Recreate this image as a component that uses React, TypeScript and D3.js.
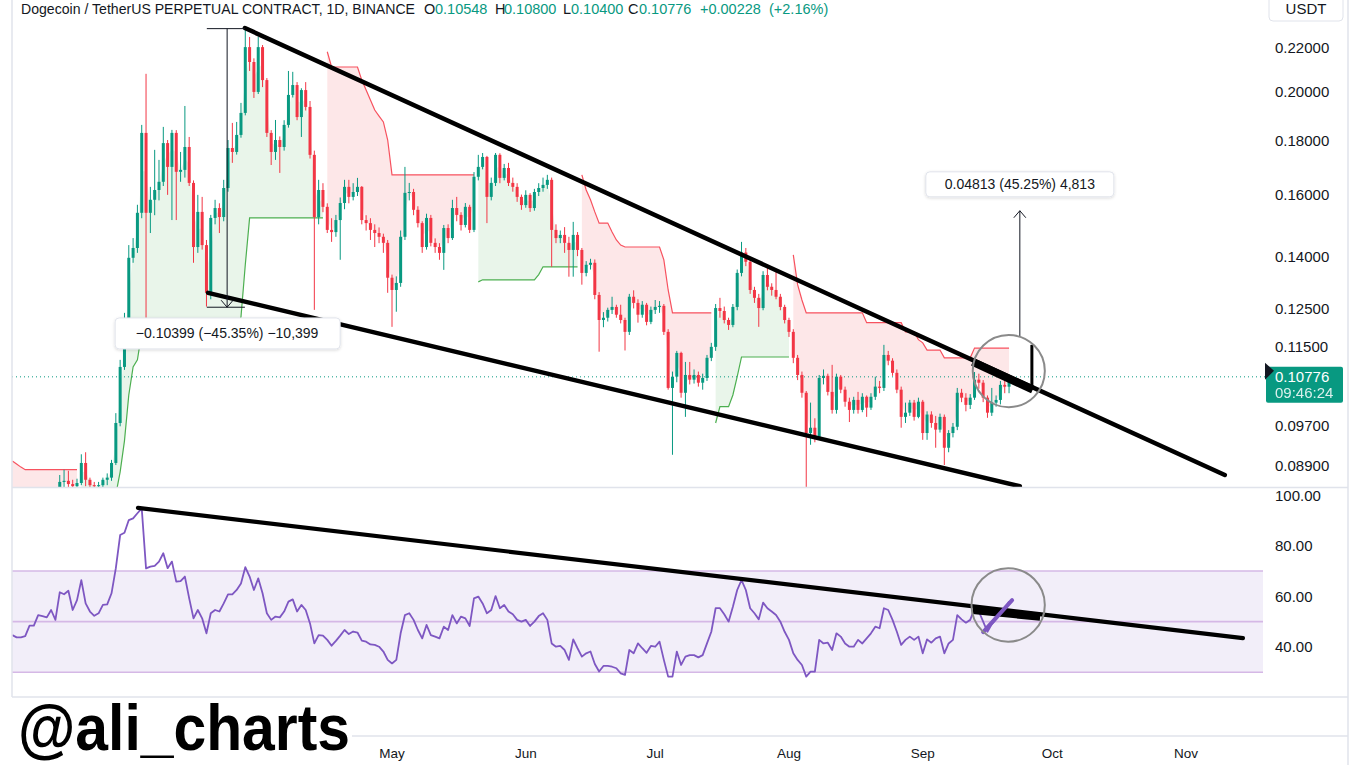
import React, { useMemo } from 'react';
import * as d3 from 'd3';

const DAY = 86400000;
const firstDate = Date.UTC(2024, 1, 3);

// daily bars from 3 Feb 2024, each open is the previous close
const firstOpen = 0.0795;
const closes = [
	0.0790, 0.0787, 0.0785, 0.0791, 0.0803, 0.0800, 0.0812, 0.0809, 0.0807, 0.0818,
	0.0812, 0.0858, 0.0860, 0.0854, 0.0850, 0.0856, 0.0894, 0.0862, 0.0852, 0.0850,
	0.0852, 0.0862, 0.0866, 0.0894, 0.0975, 0.1101, 0.1176, 0.1395, 0.1425, 0.1538,
	0.1829, 0.1538, 0.1582, 0.1616, 0.1645, 0.1789, 0.1699, 0.1829, 0.1681, 0.1688,
	0.1774, 0.1641, 0.1428, 0.1541, 0.1434, 0.1293, 0.1521, 0.1554, 0.1524, 0.1623,
	0.1770, 0.1755, 0.1821, 0.1910, 0.2203, 0.2133, 0.1999, 0.2203, 0.2051, 0.1829,
	0.1755, 0.1801, 0.1774, 0.1861, 0.1986, 0.2029, 0.1893, 0.2007, 0.1935, 0.1744,
	0.1524, 0.1616, 0.1558, 0.1482, 0.1475, 0.1514, 0.1571, 0.1627, 0.1592, 0.1609,
	0.1627, 0.1514, 0.1504, 0.1482, 0.1472, 0.1460, 0.1441, 0.1336, 0.1301, 0.1321,
	0.1460, 0.1606, 0.1609, 0.1548, 0.1504, 0.1428, 0.1521, 0.1441, 0.1428, 0.1410,
	0.1488, 0.1456, 0.1554, 0.1531, 0.1498, 0.1558, 0.1482, 0.1663, 0.1699, 0.1736,
	0.1592, 0.1641, 0.1744, 0.1659, 0.1695, 0.1641, 0.1627, 0.1592, 0.1564, 0.1599,
	0.1554, 0.1609, 0.1623, 0.1634, 0.1652, 0.1482, 0.1456, 0.1466, 0.1441, 0.1419,
	0.1466, 0.1419, 0.1350, 0.1374, 0.1380, 0.1287, 0.1219, 0.1225, 0.1246, 0.1254,
	0.1233, 0.1219, 0.1188, 0.1282, 0.1265, 0.1233, 0.1260, 0.1214, 0.1246, 0.1254,
	0.1257, 0.1188, 0.1052, 0.1078, 0.1135, 0.1041, 0.1082, 0.1071, 0.1082, 0.1064,
	0.1075, 0.1123, 0.1150, 0.1251, 0.1243, 0.1219, 0.1206, 0.1254, 0.1350, 0.1411,
	0.1383, 0.1301, 0.1279, 0.1251, 0.1344, 0.1310, 0.1301, 0.1282, 0.1254, 0.1219,
	0.1188, 0.1123, 0.1082, 0.1041, 0.0954, 0.0965, 0.0946, 0.1075, 0.1080, 0.1043,
	0.1003, 0.1078, 0.1048, 0.1021, 0.1003, 0.1025, 0.1003, 0.1032, 0.1008, 0.1032,
	0.1055, 0.1052, 0.1130, 0.1116, 0.1087, 0.1048, 0.0988, 0.0997, 0.1019, 0.0988,
	0.1021, 0.0954, 0.0993, 0.0975, 0.0961, 0.0988, 0.0924, 0.0954, 0.0967, 0.1041,
	0.1030, 0.1014, 0.1030, 0.1071, 0.1064, 0.1030, 0.0997, 0.1019, 0.1025, 0.1059,
	0.10548, 0.10776,
];
const highs = [
	0.0805, 0.0798, 0.0795, 0.0800, 0.0812, 0.0810, 0.0820, 0.0822, 0.0818, 0.0828,
	0.0825, 0.0871, 0.0881, 0.0879, 0.0862, 0.0864, 0.0911, 0.0915, 0.0866, 0.0858,
	0.0858, 0.0866, 0.0874, 0.0900, 0.0996, 0.1118, 0.1238, 0.1434, 0.1456, 0.1565,
	0.1861, 0.2079, 0.1627, 0.1763, 0.1725, 0.1853, 0.1801, 0.1841, 0.1840, 0.1755,
	0.1939, 0.1813, 0.1650, 0.1599, 0.1592, 0.1450, 0.1531, 0.1582, 0.1570, 0.1652,
	0.1801, 0.1869, 0.1873, 0.1952, 0.2296, 0.2252, 0.2150, 0.2252, 0.2213, 0.2060,
	0.1840, 0.1881, 0.1815, 0.1880, 0.2092, 0.2088, 0.2042, 0.2015, 0.2042, 0.1960,
	0.1760, 0.1652, 0.1640, 0.1570, 0.1520, 0.1531, 0.1590, 0.1652, 0.1652, 0.1640,
	0.1659, 0.1630, 0.1530, 0.1520, 0.1500, 0.1490, 0.1470, 0.1450, 0.1345, 0.1340,
	0.1480, 0.1699, 0.1641, 0.1620, 0.1560, 0.1510, 0.1535, 0.1531, 0.1455, 0.1440,
	0.1498, 0.1500, 0.1582, 0.1592, 0.1540, 0.1571, 0.1565, 0.1680, 0.1744, 0.1751,
	0.1740, 0.1660, 0.1751, 0.1750, 0.1710, 0.1714, 0.1660, 0.1640, 0.1600, 0.1615,
	0.1605, 0.1620, 0.1640, 0.1660, 0.1670, 0.1660, 0.1500, 0.1480, 0.1491, 0.1460,
	0.1508, 0.1475, 0.1425, 0.1385, 0.1392, 0.1390, 0.1295, 0.1240, 0.1252, 0.1282,
	0.1260, 0.1260, 0.1225, 0.1290, 0.1300, 0.1275, 0.1270, 0.1265, 0.1255, 0.1273,
	0.1270, 0.1262, 0.1195, 0.1090, 0.1140, 0.1138, 0.1113, 0.1113, 0.1095, 0.1090,
	0.1085, 0.1130, 0.1160, 0.1262, 0.1279, 0.1255, 0.1225, 0.1262, 0.1360, 0.1444,
	0.1425, 0.1390, 0.1310, 0.1290, 0.1355, 0.1374, 0.1320, 0.1356, 0.1290, 0.1260,
	0.1225, 0.1195, 0.1130, 0.1090, 0.1045, 0.1019, 0.0985, 0.1082, 0.1095, 0.1085,
	0.1106, 0.1085, 0.1082, 0.1055, 0.1030, 0.1032, 0.1043, 0.1040, 0.1035, 0.1040,
	0.1078, 0.1068, 0.1155, 0.1140, 0.1122, 0.1095, 0.1055, 0.1019, 0.1025, 0.1025,
	0.1030, 0.1025, 0.1000, 0.1000, 0.0990, 0.0995, 0.0993, 0.0960, 0.0975, 0.1052,
	0.1050, 0.1040, 0.1038, 0.1089, 0.1085, 0.1070, 0.1035, 0.1052, 0.1035, 0.1068,
	0.1072, 0.1080,
];
const lows = [
	0.0782, 0.0780, 0.0778, 0.0783, 0.0788, 0.0794, 0.0798, 0.0803, 0.0801, 0.0805,
	0.0806, 0.0810, 0.0845, 0.0846, 0.0838, 0.0845, 0.0852, 0.0850, 0.0838, 0.0840,
	0.0842, 0.0848, 0.0852, 0.0860, 0.0890, 0.0968, 0.1094, 0.1160, 0.1380, 0.1410,
	0.1520, 0.1219, 0.1472, 0.1530, 0.1580, 0.1630, 0.1599, 0.1514, 0.1514, 0.1645,
	0.1660, 0.1630, 0.1380, 0.1410, 0.1420, 0.1255, 0.1275, 0.1500, 0.1472, 0.1510,
	0.1610, 0.1714, 0.1745, 0.1810, 0.1900, 0.2092, 0.1973, 0.1990, 0.2020, 0.1813,
	0.1706, 0.1725, 0.1677, 0.1760, 0.1850, 0.1975, 0.1880, 0.1813, 0.1920, 0.1730,
	0.1246, 0.1500, 0.1540, 0.1472, 0.1444, 0.1460, 0.1389, 0.1550, 0.1570, 0.1580,
	0.1595, 0.1500, 0.1480, 0.1450, 0.1428, 0.1440, 0.1410, 0.1293, 0.1201, 0.1241,
	0.1310, 0.1450, 0.1580, 0.1530, 0.1490, 0.1410, 0.1420, 0.1430, 0.1410, 0.1389,
	0.1359, 0.1440, 0.1450, 0.1510, 0.1480, 0.1490, 0.1472, 0.1475, 0.1650, 0.1690,
	0.1504, 0.1580, 0.1630, 0.1640, 0.1650, 0.1630, 0.1610, 0.1575, 0.1548, 0.1555,
	0.1541, 0.1545, 0.1595, 0.1610, 0.1620, 0.1368, 0.1440, 0.1440, 0.1410, 0.1339,
	0.1339, 0.1400, 0.1316, 0.1340, 0.1360, 0.1275, 0.1138, 0.1200, 0.1215, 0.1235,
	0.1225, 0.1210, 0.1141, 0.1180, 0.1250, 0.1212, 0.1225, 0.1205, 0.1208, 0.1235,
	0.1238, 0.1180, 0.1048, 0.0910, 0.1065, 0.1030, 0.0988, 0.1060, 0.1062, 0.1055,
	0.1048, 0.1068, 0.1115, 0.1140, 0.1225, 0.1210, 0.1193, 0.1200, 0.1245, 0.1340,
	0.1370, 0.1290, 0.1265, 0.1201, 0.1245, 0.1300, 0.1285, 0.1275, 0.1245, 0.1210,
	0.1175, 0.1110, 0.1070, 0.1030, 0.0800, 0.0930, 0.0935, 0.0940, 0.1060, 0.1035,
	0.0995, 0.0995, 0.1040, 0.1010, 0.0977, 0.0995, 0.0995, 0.0998, 0.0988, 0.1003,
	0.1025, 0.1040, 0.1045, 0.1105, 0.1080, 0.1040, 0.0965, 0.0975, 0.0990, 0.0980,
	0.0985, 0.0940, 0.0940, 0.0965, 0.0924, 0.0955, 0.0890, 0.0915, 0.0945, 0.0960,
	0.1020, 0.1000, 0.1005, 0.1025, 0.1050, 0.1020, 0.0986, 0.0990, 0.1010, 0.1015,
	0.1040, 0.1040,
];
// SuperTrend value per bar (red when above price, green when below)
const supertrend = [
	0.0898, 0.0892, 0.0886, 0.0881, 0.0881, 0.0881, 0.0881, 0.0881, 0.0881, 0.0881,
	0.0881, 0.0881, 0.0881, 0.0881, 0.0881, 0.0881, 0.0822, 0.0822, 0.0822, 0.0822,
	0.0822, 0.0822, 0.0822, 0.0822, 0.0835, 0.0877, 0.0938, 0.1036, 0.1101, 0.1118,
	0.1186, 0.1193, 0.1193, 0.1193, 0.1193, 0.1193, 0.1193, 0.1193, 0.1193, 0.1193,
	0.1193, 0.1193, 0.1193, 0.1193, 0.1193, 0.1193, 0.1193, 0.1193, 0.1193, 0.1193,
	0.1193, 0.1193, 0.1193, 0.1227, 0.1374, 0.1521, 0.1521, 0.1521, 0.1521, 0.1521,
	0.1521, 0.1521, 0.1521, 0.1521, 0.1521, 0.1521, 0.1521, 0.1521, 0.1521, 0.1521,
	0.1521, 0.1521, 0.1521, 0.2181, 0.2110, 0.2110, 0.2110, 0.2110, 0.2110, 0.2110,
	0.2110, 0.2051, 0.2007, 0.1964, 0.1922, 0.1897, 0.1873, 0.1801, 0.1670, 0.1670,
	0.1670, 0.1670, 0.1670, 0.1670, 0.1670, 0.1670, 0.1670, 0.1670, 0.1670, 0.1670,
	0.1670, 0.1670, 0.1670, 0.1670, 0.1670, 0.1670, 0.1670, 0.1670, 0.1324, 0.1330,
	0.1330, 0.1330, 0.1330, 0.1330, 0.1330, 0.1330, 0.1330, 0.1330, 0.1330, 0.1330,
	0.1330, 0.1330, 0.1345, 0.1368, 0.1368, 0.1368, 0.1368, 0.1368, 0.1368, 0.1368,
	0.1368, 0.1368, 0.1670, 0.1616, 0.1582, 0.1541, 0.1504, 0.1504, 0.1504, 0.1475,
	0.1450, 0.1434, 0.1428, 0.1428, 0.1428, 0.1428, 0.1428, 0.1428, 0.1428, 0.1428,
	0.1428, 0.1389, 0.1301, 0.1238, 0.1238, 0.1238, 0.1238, 0.1238, 0.1238, 0.1238,
	0.1238, 0.1238, 0.1238, 0.0975, 0.1010, 0.1010, 0.1010, 0.1036, 0.1078, 0.1125,
	0.1125, 0.1125, 0.1125, 0.1125, 0.1125, 0.1125, 0.1125, 0.1125, 0.1125, 0.1125,
	0.1125, 0.1404, 0.1316, 0.1273, 0.1238, 0.1238, 0.1238, 0.1238, 0.1238, 0.1238,
	0.1238, 0.1238, 0.1238, 0.1238, 0.1238, 0.1238, 0.1238, 0.1238, 0.1212, 0.1212,
	0.1212, 0.1212, 0.1212, 0.1212, 0.1212, 0.1212, 0.1212, 0.1188, 0.1188, 0.1188,
	0.1168, 0.1160, 0.1142, 0.1142, 0.1142, 0.1142, 0.1123, 0.1123, 0.1123, 0.1123,
	0.1123, 0.1123, 0.1123, 0.1147, 0.1147, 0.1147, 0.1147, 0.1147, 0.1147, 0.1147,
	0.1147, 0.1147,
];
const rsi = [
	44.7, 43.8, 43.8, 44.3, 48.4, 48.4, 52.6, 52.2, 51.7, 54.6,
	50.7, 61.6, 60.8, 62.2, 54.6, 58.5, 66.4, 57.2, 54.0, 52.3,
	53.3, 56.6, 56.8, 61.2, 71.1, 84.2, 85.1, 90.1, 90.8, 92.8,
	94.7, 71.0, 71.7, 72.0, 73.7, 77.0, 71.1, 73.7, 65.8, 66.0,
	67.8, 59.2, 51.3, 54.6, 51.3, 45.4, 53.3, 54.6, 54.0, 57.2,
	60.8, 60.8, 62.5, 65.1, 71.5, 67.8, 62.5, 67.1, 61.2, 53.3,
	50.7, 52.0, 51.7, 54.0, 57.9, 58.8, 54.0, 56.6, 54.6, 49.3,
	41.4, 44.7, 44.5, 42.8, 40.5, 42.4, 44.5, 46.7, 45.1, 46.1,
	45.7, 42.5, 42.1, 41.0, 40.8, 40.1, 38.2, 34.9, 33.5, 34.9,
	45.4, 52.6, 53.3, 50.7, 46.7, 43.4, 48.7, 44.7, 44.1, 43.4,
	48.0, 46.7, 52.6, 49.3, 52.0, 51.3, 48.3, 59.2, 59.9, 57.2,
	53.3, 54.6, 60.1, 55.3, 56.6, 54.0, 52.9, 50.7, 50.0, 50.7,
	48.3, 50.0, 52.2, 53.3, 50.7, 41.4, 40.1, 40.4, 38.8, 34.9,
	43.0, 39.5, 36.2, 37.5, 38.2, 33.3, 30.3, 32.5, 32.5, 32.2,
	31.6, 29.6, 29.0, 38.8, 37.5, 41.4, 39.5, 37.7, 40.4, 40.1,
	42.1, 34.9, 28.3, 28.3, 38.2, 32.9, 36.2, 36.8, 36.8, 35.9,
	36.8, 41.4, 46.0, 55.3, 55.3, 52.9, 50.0, 55.9, 62.5, 66.4,
	62.5, 55.3, 53.3, 50.9, 57.5, 55.3, 54.0, 52.6, 50.0, 46.0,
	42.8, 37.5, 34.9, 32.9, 28.3, 30.3, 30.3, 42.8, 41.4, 41.7,
	38.8, 45.4, 44.1, 41.4, 40.1, 40.1, 42.8, 41.4, 43.4, 45.4,
	48.0, 47.4, 55.3, 54.6, 50.7, 46.0, 40.8, 42.8, 44.1, 42.8,
	44.1, 37.5, 43.0, 41.7, 43.4, 44.1, 37.5, 41.4, 42.8, 52.6,
	50.9, 49.6, 50.7, 55.3, 54.0, 50.0, 46.0, 49.0, 51.0, 53.0,
	55.0, 58.0,
];

const priceTicks = [0.22, 0.2, 0.18, 0.16, 0.14, 0.125, 0.115, 0.097, 0.089];
const rsiTicks = [100, 80, 60, 40];
const rsiLevels = [70, 50, 30];
const lastClose = 0.10776;
const countdown = '09:46:24';
const title = 'Dogecoin / TetherUS PERPETUAL CONTRACT, 1D, BINANCE';
const ohlc = [['O', '0.10548'], ['H', '0.10800'], ['L', '0.10400'], ['C', '0.10776']];
const change = ['+0.00228', '(+2.16%)'];

// author drawings, as [time, value]
const upperLine = [['2024-03-27T22:00Z', 0.2296], ['2024-11-10T00:00Z', 0.0871]];
const lowerLine = [['2024-03-19T09:00Z', 0.1293], ['2024-09-23T12:00Z', 0.0850]];
const rsiLine = [['2024-03-03T03:00Z', 94.9], ['2024-11-14T05:00Z', 43.5]];
const priceMarker = [['2024-09-12T14:00Z', 0.1113], ['2024-09-26T12:00Z', 0.1048]];
const rsiMarker = [['2024-09-12T14:00Z', 54.6], ['2024-09-28T05:00Z', 51.9]];
const rsiStroke = [['2024-09-15T00:00Z', 45.9], ['2024-09-21T17:00Z', 58.5]];
const breakBar = [['2024-09-26T07:00Z', 0.1155], ['2024-09-26T07:00Z', 0.1054]];
const target = { t: '2024-09-23T12:00Z', from: 0.1176, to: 0.15449, labelAt: 0.1636, text: '0.04813 (45.25%) 4,813' };
const drop = { t0: '2024-03-19T02:00Z', t1: '2024-03-27T22:00Z', tm: '2024-03-23T19:00Z', top: 0.22931, bottom: 0.12532, labelAt: 0.1184, text: '\u22120.10399 (\u221245.35%) \u221210,399' };
const priceCircle = { t0: '2024-09-12T14:00Z', t1: '2024-09-29T07:00Z', top: 0.1180, bottom: 0.1009 };
const rsiCircle = { t0: '2024-09-12T07:00Z', t1: '2024-09-29T07:00Z', top: 71.1, bottom: 42.1 };

const UP = '#089981';
const DOWN = '#F23645';
const TEXT = '#131722';
const BORDER = '#e0e3eb';
const FONT = '"Liberation Sans", Arial, sans-serif';

const L = 12, R = 1265, MAIN_B = 487, RSI_B = 697, MARK_W = 352;
const legendX = [[424, 435], [495, 504], [563, 571], [628, 639]];

export default function App() {
	const x = d3.scaleUtc()
		.domain([new Date(Date.UTC(2024, 1, 1)), new Date(Date.UTC(2024, 9, 1))])
		.range([3.65, 1052.2]);
	const y = d3.scaleLog().domain([0.08486, 0.244]).range([MAIN_B, 0]);
	const yr = d3.scaleLinear().domain([20.25, 103.16]).range([RSI_B, MAIN_B]);
	const tx = (t: string) => x(new Date(t));

	const bars = useMemo(() => closes.map((c, i) => ({
		t: new Date(firstDate + i * DAY),
		o: i ? closes[i - 1] : firstOpen,
		h: highs[i], l: lows[i], c,
		st: supertrend[i], r: rsi[i],
	})), []);

	// split SuperTrend into runs of same direction
	const runs = useMemo(() => {
		const out: { up: boolean; pts: typeof bars }[] = [];
		bars.forEach(b => {
			const up = b.st < b.c;
			const last = out[out.length - 1];
			if (!last || last.up !== up) out.push({ up, pts: [b] });
			else last.pts.push(b);
		});
		return out;
	}, [bars]);

	const stLine = d3.line<any>().x(d => x(d.t)).y(d => y(d.st));
	const stArea = d3.area<any>().x(d => x(d.t)).y0(d => y(d.st)).y1(d => y((d.o + d.c) / 2));
	const rsiPath = d3.line<any>().x(d => x(d.t)).y(d => yr(d.r));

	// months under the watermark box are hidden in the original
	const months = d3.utcMonth.range(new Date(Date.UTC(2024, 2, 1)), new Date(Date.UTC(2024, 11, 1)))
		.filter(m => x(m) > MARK_W + 15);
	const fmt = d3.utcFormat('%b');

	const seg = (pts: any[], sy: any) => pts.map(p => [tx(p[0]), sy(p[1])]);
	const up = seg(upperLine, y), lo = seg(lowerLine, y), rl = seg(rsiLine, yr);
	const pm = seg(priceMarker, y), rm = seg(rsiMarker, yr), rs = seg(rsiStroke, yr), bb = seg(breakBar, y);

	const tX = tx(target.t);
	const dX0 = tx(drop.t0), dX1 = tx(drop.t1), dXm = tx(drop.tm);
	const dTop = y(drop.top), dBot = y(drop.bottom);

	const pcx = (tx(priceCircle.t0) + tx(priceCircle.t1)) / 2;
	const pcy = (y(priceCircle.top) + y(priceCircle.bottom)) / 2;
	const prx = (tx(priceCircle.t1) - tx(priceCircle.t0)) / 2;
	const pry = (y(priceCircle.bottom) - y(priceCircle.top)) / 2;
	const rcx = (tx(rsiCircle.t0) + tx(rsiCircle.t1)) / 2;
	const rcy = (yr(rsiCircle.top) + yr(rsiCircle.bottom)) / 2;
	const rrx = (tx(rsiCircle.t1) - tx(rsiCircle.t0)) / 2;
	const rry = (yr(rsiCircle.bottom) - yr(rsiCircle.top)) / 2;

	const lastY = y(lastClose);

	return (
		<svg width={1360} height={765} style={{ position: 'absolute', left: 0, top: 0, background: '#fff' }}
			fontFamily={FONT}>
			<defs>
				<clipPath id="main"><rect x={L} y={0} width={R - L} height={MAIN_B} /></clipPath>
				<clipPath id="osc"><rect x={L} y={MAIN_B + 1} width={R - L} height={RSI_B - MAIN_B - 1} /></clipPath>
				<filter id="shadow" x="-10%" y="-30%" width="120%" height="160%">
					<feDropShadow dx="0" dy="1" stdDeviation="1.5" floodOpacity="0.15" />
				</filter>
			</defs>

			{/* price pane */}
			<g clipPath="url(#main)">
				{runs.map((r, i) => (
					<path key={'a' + i} d={stArea(r.pts) || ''}
						fill={r.up ? 'rgba(76,175,80,0.12)' : 'rgba(242,54,69,0.12)'} />
				))}
				{runs.map((r, i) => (
					<path key={'l' + i} d={stLine(r.pts) || ''} fill="none"
						stroke={r.up ? '#4CAF50' : '#F7525F'} strokeWidth={1.2} />
				))}
				<line x1={L} x2={R} y1={lastY} y2={lastY} stroke={UP} strokeWidth={1} strokeDasharray="1 3" />
				{bars.map((b, i) => {
					const cx = x(b.t);
					const col = b.c >= b.o ? UP : DOWN;
					const top = y(Math.max(b.o, b.c));
					const bot = y(Math.min(b.o, b.c));
					return (
						<g key={i}>
							<line x1={cx} x2={cx} y1={y(b.h)} y2={y(b.l)} stroke={col} strokeWidth={1} />
							<rect x={cx - 1.5} y={top} width={3} height={Math.max(1, bot - top)} fill={col} />
						</g>
					);
				})}

				{/* drawings */}
				<line x1={up[0][0]} y1={up[0][1]} x2={up[1][0]} y2={up[1][1]} stroke="#000" strokeWidth={4.5} strokeLinecap="round" />
				<line x1={lo[0][0]} y1={lo[0][1]} x2={lo[1][0]} y2={lo[1][1]} stroke="#000" strokeWidth={4.5} strokeLinecap="round" />
				<line x1={pm[0][0]} y1={pm[0][1]} x2={pm[1][0]} y2={pm[1][1]} stroke="#000" strokeWidth={8} />
				<line x1={bb[0][0]} y1={bb[0][1]} x2={bb[1][0]} y2={bb[1][1]} stroke="#000" strokeWidth={3} />

				{/* drop measurement */}
				<g stroke={TEXT} strokeWidth={1} fill="none">
					<line x1={dX0} x2={dX1} y1={dTop} y2={dTop} />
					<line x1={dX0} x2={dX1} y1={dBot} y2={dBot} />
					<line x1={dXm} x2={dXm} y1={dTop} y2={dBot} />
					<polyline points={`${dXm - 6},${dBot - 7} ${dXm},${dBot} ${dXm + 6},${dBot - 7}`} />
				</g>

				{/* target measurement */}
				<g stroke={TEXT} strokeWidth={1} fill="none">
					<line x1={tX} x2={tX} y1={y(target.from)} y2={y(target.to)} />
					<polyline points={`${tX - 6},${y(target.to) + 7} ${tX},${y(target.to)} ${tX + 6},${y(target.to) + 7}`} />
				</g>

				<ellipse cx={pcx} cy={pcy} rx={prx} ry={pry} fill="none" stroke="#8a8a8a" strokeWidth={2} />
			</g>

			{/* measurement labels */}
			<g filter="url(#shadow)">
				<rect x={dXm - 112} y={y(drop.labelAt) - 15.5} width={225} height={31} rx={4} fill="#fff" stroke={BORDER} />
				<rect x={tX - 94} y={y(target.labelAt) - 12.5} width={188} height={25} rx={4} fill="#fff" stroke={BORDER} />
			</g>
			<text x={dXm} y={y(drop.labelAt) + 5} textAnchor="middle" fontSize={14} fill={TEXT}>{drop.text}</text>
			<text x={tX} y={y(target.labelAt) + 5} textAnchor="middle" fontSize={14} fill={TEXT}>{target.text}</text>

			{/* RSI pane */}
			<rect x={L} y={yr(70)} width={R - 2 - L} height={yr(30) - yr(70)} fill="rgba(126,87,194,0.1)" />
			{rsiLevels.map(v => (
				<line key={v} x1={L} x2={R - 2} y1={yr(v)} y2={yr(v)} stroke="#d5b8e6" strokeWidth={1.6} />
			))}
			<g clipPath="url(#osc)">
				<path d={rsiPath(bars) || ''} fill="none" stroke="#7E57C2" strokeWidth={1.8} strokeLinejoin="round" />
				<line x1={rl[0][0]} y1={rl[0][1]} x2={rl[1][0]} y2={rl[1][1]} stroke="#000" strokeWidth={4.2} strokeLinecap="round" />
				<line x1={rm[0][0]} y1={rm[0][1]} x2={rm[1][0]} y2={rm[1][1]} stroke="#000" strokeWidth={8} />
				<line x1={rs[0][0]} y1={rs[0][1]} x2={rs[1][0]} y2={rs[1][1]} stroke="#7E57C2" strokeWidth={4} strokeLinecap="round" />
				<ellipse cx={rcx} cy={rcy} rx={rrx} ry={rry} fill="none" stroke="#8a8a8a" strokeWidth={2} />
			</g>

			{/* frame */}
			<g stroke={BORDER} strokeWidth={1.5}>
				<line x1={L} x2={L} y1={0} y2={RSI_B} />
				<line x1={1348} x2={1348} y1={0} y2={765} />
				<line x1={L} x2={1348} y1={MAIN_B + 0.5} y2={MAIN_B + 0.5} />
				<line x1={L} x2={1348} y1={RSI_B} y2={RSI_B} />
				<line x1={L} x2={1348} y1={736} y2={736} />
			</g>

			{/* price axis */}
			{priceTicks.map(v => (
				<text key={v} x={1275} y={y(v) + 5.5} fontSize={15} fill={TEXT}>{v.toFixed(5)}</text>
			))}
			{rsiTicks.map(v => (
				<text key={v} x={1275} y={yr(v) + 5.5} fontSize={15} fill={TEXT}>{v.toFixed(2)}</text>
			))}
			<rect x={1269} y={-6} width={74} height={27} rx={4} fill="#fff" stroke={BORDER} />
			<text x={1306} y={14} textAnchor="middle" fontSize={15} fill={TEXT}>USDT</text>
			<rect x={1266} y={lastY - 10} width={77} height={36} rx={2} fill={UP} />
			<text x={1275} y={lastY + 5} fontSize={15} fill="#fff">{lastClose.toFixed(5)}</text>
			<text x={1275} y={lastY + 21} fontSize={15} fill="#fff" opacity={0.85}>{countdown}</text>
			<polygon points={`1265,${lastY - 14} 1274,${lastY - 6} 1265,${lastY + 3}`} fill={TEXT} />

			{/* time axis */}
			{months.map(m => (
				<text key={+m} x={x(m)} y={758} textAnchor="middle" fontSize={13.5} fill={TEXT}>{fmt(m)}</text>
			))}

			{/* legend */}
			<text y={14} fontSize={14.5} fill={TEXT}>
				<tspan x={21} textLength={394} lengthAdjust="spacingAndGlyphs">{title}</tspan>
			</text>
			{ohlc.map(([k, v], i) => (
				<text key={k} y={14} fontSize={14.5}>
					<tspan x={legendX[i][0]} fill={TEXT}>{k}</tspan>
					<tspan x={legendX[i][1]} fill={UP}>{v}</tspan>
				</text>
			))}
			<text x={700} y={14} fontSize={14.5} fill={UP}>{change[0]}</text>
			<text x={769} y={14} fontSize={14.5} fill={UP}>{change[1]}</text>

			{/* watermark */}
			<rect x={0} y={698} width={MARK_W} height={67} fill="#fff" />
			<text x={18} y={750} fontSize={64} fontWeight="bold" fill="#000"
				textLength={332} lengthAdjust="spacingAndGlyphs">@ali_charts</text>
		</svg>
	);
}
